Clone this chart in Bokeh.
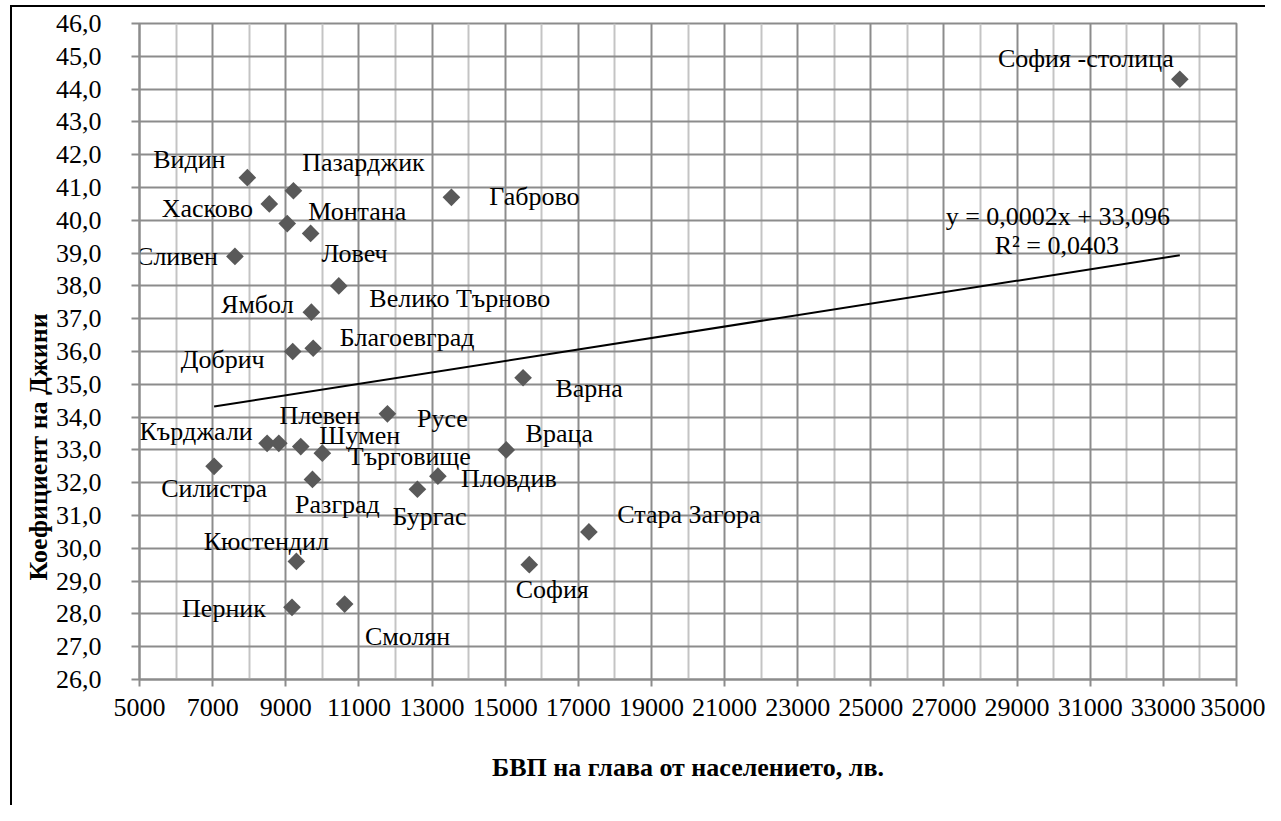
import numpy as np
from bokeh.plotting import figure
from bokeh.models import ColumnDataSource, FixedTicker, Title, Range1d
from bokeh.core.properties import value
from bokeh.embed import file_html
from bokeh.resources import INLINE

# ---------------- data ----------------
districts = ["Видин", "Пазарджик", "Хасково", "Монтана", "Ловеч", "Сливен",
             "Велико Търново", "Ямбол", "Габрово", "Добрич", "Благоевград",
             "Русе", "Кърджали", "Плевен", "Шумен", "Търговище", "Силистра",
             "Разград", "Кюстендил", "Перник", "Смолян", "Варна", "Враца",
             "Пловдив", "Бургас", "Стара Загора", "София", "София -столица"]
gdp_per_capita = [7950, 9210, 8550, 9040, 9680, 7610,
                  10450, 9700, 13530, 9190, 9750,
                  11780, 8490, 8810, 9410, 10000, 7040,
                  9730, 9290, 9170, 10610, 15490, 15030,
                  13160, 12600, 17290, 15660, 33450]
gini = [41.3, 40.9, 40.5, 39.9, 39.6, 38.9,
        38.0, 37.2, 40.7, 36.0, 36.1,
        34.1, 33.2, 33.2, 33.1, 32.9, 32.5,
        32.1, 29.6, 28.2, 28.3, 35.2, 33.0,
        32.2, 31.8, 30.5, 29.5, 44.3]

x_ticks = [5000, 7000, 9000, 11000, 13000, 15000, 17000, 19000, 21000,
           23000, 25000, 27000, 29000, 31000, 33000, 35000]
x_tick_labels = ["5000", "7000", "9000", "11000", "13000", "15000", "17000",
                 "19000", "21000", "23000", "25000", "27000", "29000",
                 "31000", "33000", "35000"]
x_minor_ticks = [6000, 8000, 10000, 12000, 14000, 16000, 18000, 20000, 22000,
                 24000, 26000, 28000, 30000, 32000, 34000]
y_ticks = [26, 27, 28, 29, 30, 31, 32, 33, 34, 35, 36, 37, 38, 39, 40, 41,
           42, 43, 44, 45, 46]
y_tick_labels = ["26,0", "27,0", "28,0", "29,0", "30,0", "31,0", "32,0",
                 "33,0", "34,0", "35,0", "36,0", "37,0", "38,0", "39,0",
                 "40,0", "41,0", "42,0", "43,0", "44,0", "45,0", "46,0"]

x_title = "БВП на глава от населението, лв."
y_title = "Коефициент на Джини"
equation_lines = ["y = 0,0002x + 33,096", "R² = 0,0403"]

# ---------------- layout (label placement in screen pixels) ----------------
label_dx = [-58, 70, -62, 70, 44, -58, 121, -54, 83, -70, 94,
            55, -71, 41, 59, 87, 0, 25, -30, -68, 63, 66, 53,
            71, 12, 100, 23, -94]
label_dy = [-18, -28, 5, -12, 20, 0, 13, -8, -1, 8, -11,
            5, -12, -28, -11, 3, 22, 25, -20, 1, 32, 11, -16,
            2, 27, -17, 25, -21]

FONT = "'Liberation Serif', serif"
FS = "26px"
DARK = "#8C8C8C"
LIGHT = "#C4C4C4"

src = ColumnDataSource(dict(x=gdp_per_capita, y=gini, name=districts,
                            dx=label_dx, dy=label_dy))

p = figure(width=1265, height=805,
           x_range=Range1d(x_ticks[0], x_ticks[-1]),
           y_range=Range1d(y_ticks[0], y_ticks[-1]),
           output_backend="svg", toolbar_location=None,
           min_border_left=139, min_border_right=29,
           min_border_top=23, min_border_bottom=126)
# outer chart-area border: an L shape (left and top edges) in one layer
p.styles = {"background":
            "conic-gradient(from 90deg at 2px 2px, transparent 0deg 90deg, "
            "#000000 90deg 360deg) 10px 5px / 100% 100% no-repeat"}

p.background_fill_color = "white"
p.border_fill_color = None
p.outline_line_color = DARK
p.outline_line_width = 2

# axes
p.xaxis.ticker = FixedTicker(ticks=x_ticks, minor_ticks=x_minor_ticks)
# y: short visible tick marks are drawn as "minor" ticks at the same values
p.yaxis.ticker = FixedTicker(ticks=y_ticks, minor_ticks=y_ticks)
p.xaxis.major_label_overrides = dict(zip(x_ticks, x_tick_labels))
p.yaxis.major_label_overrides = dict(zip(y_ticks, y_tick_labels))
for ax in (p.xaxis, p.yaxis):
    ax.axis_line_color = DARK
    ax.axis_line_width = 2
    ax.major_tick_line_color = DARK
    ax.major_tick_line_width = 2
    ax.major_tick_in = 0
    ax.minor_tick_line_color = None
    ax.major_label_text_font = FONT
    ax.major_label_text_font_size = FS
    ax.major_label_text_color = "black"
p.xaxis.major_tick_out = 7
p.xaxis.major_label_standoff = 12

p.yaxis.major_tick_out = 24
p.yaxis.major_tick_line_color = None
p.yaxis.minor_tick_line_color = DARK
p.yaxis.minor_tick_line_width = 2
p.yaxis.minor_tick_in = 0
p.yaxis.minor_tick_out = 8
p.yaxis.major_label_standoff = 14

p.xaxis.axis_label = x_title
p.xaxis.axis_label_text_font = FONT
p.xaxis.axis_label_text_font_size = FS
p.xaxis.axis_label_text_font_style = "bold"
p.xaxis.axis_label_text_color = "black"
p.xaxis.axis_label_standoff = 34

# grids
p.xgrid.grid_line_color = DARK
p.xgrid.grid_line_width = 2
p.xgrid.minor_grid_line_color = LIGHT
p.xgrid.minor_grid_line_width = 2
p.ygrid.grid_line_color = DARK
p.ygrid.grid_line_width = 2

# trend line (least squares)
slope, intercept = np.polyfit(gdp_per_capita, gini, 1)
tx = [min(gdp_per_capita), max(gdp_per_capita)]
ty = [slope * v + intercept for v in tx]
p.line(tx, ty, line_color="black", line_width=2)

# points
p.scatter(x="x", y="y", source=src, marker="square", angle=np.pi / 4,
          size=12.5, fill_color="#595959", line_color=None)

# point labels
p.text(x="x", y="y", text="name", source=src, x_offset="dx", y_offset="dy",
       text_font=value(FONT), text_font_size=FS, text_color="black",
       text_align="center", text_baseline="middle")

# equation
eq_src = ColumnDataSource(dict(x=[tx[1], tx[1]], y=[ty[1], ty[1]],
                               t=equation_lines, dx=[-122, -123], dy=[-39, -10]))
p.text(x="x", y="y", text="t", source=eq_src, x_offset="dx", y_offset="dy",
       text_font=value(FONT), text_font_size=FS, text_color="black",
       text_align="center", text_baseline="middle")

# y title, placed lower than the frame centre as in the original
p.add_layout(Title(text=y_title, align="left", offset=99, standoff=0,
                   text_font=FONT, text_font_size=FS, text_font_style="bold",
                   text_color="black"), "left")

open("out.html", "w").write(file_html(p, INLINE))
